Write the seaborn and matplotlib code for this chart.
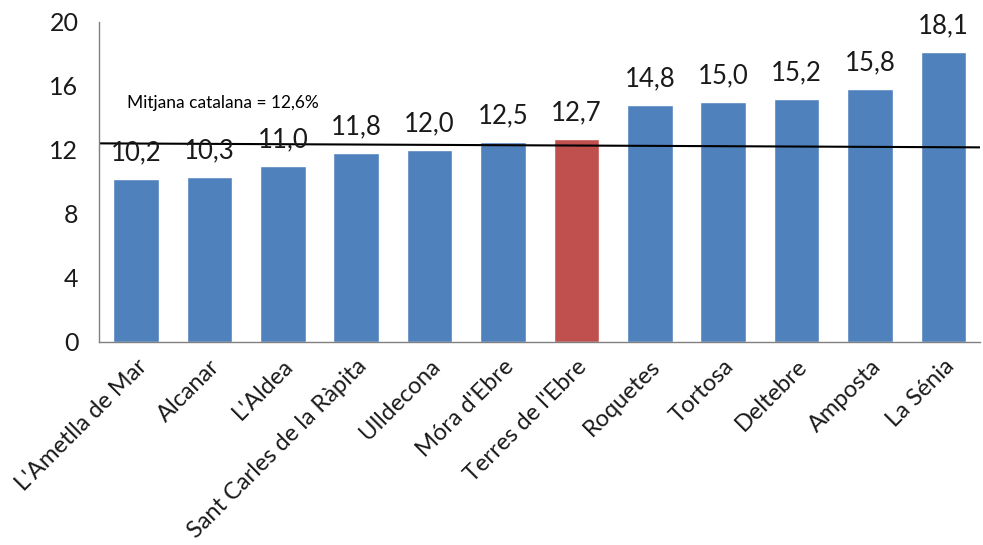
import matplotlib
matplotlib.use("Agg")
import matplotlib.pyplot as plt
import seaborn as sns
import pandas as pd

# Data
municipis = ["L'Ametlla de Mar", "Alcanar", "L'Aldea", "Sant Carles de la Ràpita",
             "Ulldecona", "Móra d'Ebre", "Terres de l'Ebre", "Roquetes", "Tortosa",
             "Deltebre", "Amposta", "La Sénia"]
valors = [10.2, 10.3, 11.0, 11.8, 12.0, 12.5, 12.7, 14.8, 15.0, 15.2, 15.8, 18.1]
destacat = "Terres de l'Ebre"
mitjana_label = "Mitjana catalana = 12,6%"
mitjana_linia = [12.4, 12.15]   # line as drawn (left end, right end)
y_ticks = [0, 4, 8, 12, 16, 20]

BLUE = "#4F81BD"
RED = "#C0504D"
TEXT = "#1a1a1a"

df = pd.DataFrame({"municipi": municipis, "valor": valors})
colors = {m: (RED if m == destacat else BLUE) for m in municipis}

sns.set_style("white")
plt.rcParams["font.family"] = ["Lato", "DejaVu Sans"]

fig = plt.figure(figsize=(9.83, 5.45), dpi=100)
ax = fig.add_axes([0.101, 0.373, 0.896, 0.587])

sns.barplot(data=df, x="municipi", y="valor", hue="municipi", palette=colors,
            width=0.62, legend=False, ax=ax, saturation=1)

for i, v in enumerate(valors):
    ax.text(i, v + 0.85, f"{v:.1f}".replace(".", ","), ha="center", va="bottom",
            fontsize=18.5, color=TEXT)

ax.plot([-0.5, len(municipis) - 0.5], mitjana_linia, color="black", lw=1.5)
ax.text(-0.12, 14.9, mitjana_label, ha="left", va="center", fontsize=12.5, color="black")

ax.set_xlim(-0.5, len(municipis) - 0.5)
ax.set_ylim(0, 20)
ax.set_yticks(y_ticks)
ax.set_yticklabels([str(t) for t in y_ticks], fontsize=18, color=TEXT)
ax.set_xlabel("")
ax.set_ylabel("")

# category ticks sit on the boundaries between bars
ax.set_xticks(range(len(municipis)))
ax.set_xticklabels(municipis, rotation=45, ha="right", rotation_mode="anchor",
                   fontsize=17, color=TEXT)
ax.tick_params(axis="x", length=0, pad=10)
ax.set_xticks([i - 0.5 for i in range(len(municipis) + 1)], minor=True)
ax.tick_params(axis="x", which="minor", length=6, color="#808080", direction="out")
ax.tick_params(axis="y", length=6, color="#808080", direction="out", pad=9)

sns.despine(ax=ax)
for s in ["left", "bottom"]:
    ax.spines[s].set_color("#808080")
    ax.spines[s].set_linewidth(1)

fig.savefig("out.png", dpi=100)
